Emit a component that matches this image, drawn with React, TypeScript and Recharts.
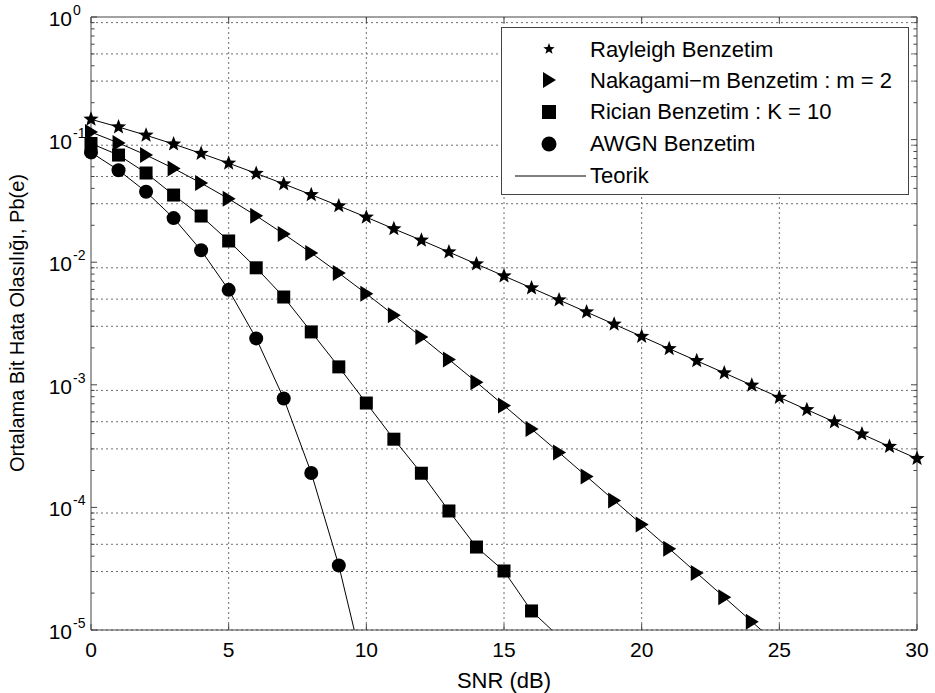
import { CartesianGrid, ComposedChart, Line, ReferenceLine, Scatter, XAxis, YAxis } from 'recharts'

// SNR in dB, one entry per simulated point
const snr = [0, 1, 2, 3, 4, 5, 6, 7, 8, 9, 10, 11, 12, 13, 14, 15, 16, 17, 18, 19, 20, 21, 22, 23, 24, 25, 26, 27, 28, 29, 30]

// bit error probability
const rayleigh = [
  0.1464, 0.1267, 0.1085, 0.0919, 0.0771, 0.0642, 0.053, 0.0435, 0.0355, 0.0288, 0.0233,
  0.0187, 0.0151, 0.0121, 0.00966, 0.00772, 0.00616, 0.00492, 0.00392, 0.00312, 0.00248,
  0.00197, 0.00157, 0.00125, 0.000992, 0.000789, 0.000627, 0.000498, 0.000396, 0.000314, 0.00025,
]
const nakagami = [
  0.1151, 0.0939, 0.0748, 0.0582, 0.0442, 0.0329, 0.0239, 0.017, 0.0119, 0.00816, 0.00553,
  0.0037, 0.00245, 0.00161, 0.00105, 0.000677, 0.000436, 0.00028, 0.000179, 0.000114, 0.0000726,
  0.0000461, 0.0000292, 0.0000185, 0.0000117,
]
const rician = [
  0.093, 0.0748, 0.0534, 0.0353, 0.0238, 0.0149, 0.009, 0.0052, 0.0027, 0.0014, 0.00071,
  0.00036, 0.00019, 0.0000935, 0.0000475, 0.0000303, 0.0000143,
]
const awgn = [0.0786, 0.0563, 0.0375, 0.0229, 0.0125, 0.00595, 0.00239, 0.000773, 0.000191, 0.0000336]

// theory curves run one step past the last marker (below the axis, clipped)
const nakagamiTail = 0.0000074
const ricianTail = 0.0000088
const awgnTail = 0.00000387

const xTicks = [0, 5, 10, 15, 20, 25, 30]
const xGrid = [5, 10, 15, 20, 25]
const yMajors = [0.00001, 0.0001, 0.001, 0.01, 0.1, 1]
const yMinors = yMajors.slice(0, -1).flatMap((d) => [2, 3, 4, 5, 6, 7, 8, 9].map((m) => m * d))
const yGrid = [...yMajors, ...yMinors]

const pts = (vals: number[]) => vals.map((v, i) => ({ snr: snr[i], v }))

const FONT = '"Liberation Sans", Arial, Helvetica, sans-serif'
const FRAME = '#444'

const Star = ({ cx, cy, s = 1 }: any) => {
  const p: string[] = []
  for (let i = 0; i < 10; i++) {
    const r = (i % 2 ? 3.4 : 8) * s
    const a = -Math.PI / 2 + (i * Math.PI) / 5
    p.push(`${cx + r * Math.cos(a)},${cy + r * Math.sin(a)}`)
  }
  return <polygon points={p.join(' ')} fill="#000" />
}
const Tri = ({ cx, cy }: any) => (
  <polygon points={`${cx - 6},${cy - 8} ${cx + 7},${cy} ${cx - 6},${cy + 8}`} fill="#000" />
)
const Sq = ({ cx, cy, s = 13 }: any) => <rect x={cx - s / 2} y={cy - s / 2} width={s} height={s} fill="#000" />
const Dot = ({ cx, cy, r = 7 }: any) => <circle cx={cx} cy={cy} r={r} fill="#000" />

const YTick = ({ x, y, payload }: any) => {
  const e = Math.round(Math.log10(payload.value))
  return (
    <g fontFamily={FONT} fill="#000">
      <text x={x - 16} y={y + 9} textAnchor="end" fontSize={21}>10</text>
      <text x={x - 15} y={y - 2} textAnchor="start" fontSize={14}>{e}</text>
    </g>
  )
}

const legendRows = [
  { label: 'Rayleigh Benzetim', cy: 49, ty: 57 },
  { label: 'Nakagami−m Benzetim : m = 2', cy: 80, ty: 88 },
  { label: 'Rician Benzetim : K = 10', cy: 112, ty: 119 },
  { label: 'AWGN Benzetim', cy: 144, ty: 151 },
  { label: 'Teorik', cy: 176, ty: 183 },
]

function Overlay() {
  const mx = 549
  return (
    <svg width={935} height={693} style={{ position: 'absolute', left: 0, top: 0, pointerEvents: 'none' }}>
      <text
        transform="translate(17,323) rotate(-90)"
        textAnchor="middle"
        dominantBaseline="central"
        fontSize={20}
        fontFamily={FONT}
        fill="#000"
      >
        Ortalama Bit Hata Olasılığı, Pb(e)
      </text>
      <rect x={501.5} y={27.5} width={407} height={167} fill="#fff" stroke={FRAME} strokeWidth={1} />
      <Star cx={mx} cy={legendRows[0].cy} s={0.75} />
      <Tri cx={mx} cy={legendRows[1].cy} />
      <Sq cx={mx} cy={legendRows[2].cy} s={14} />
      <Dot cx={mx} cy={legendRows[3].cy} r={7.5} />
      <line x1={515} x2={586} y1={legendRows[4].cy} y2={legendRows[4].cy} stroke="#000" strokeWidth={1} />
      {legendRows.map((r) => (
        <text key={r.label} x={590} y={r.ty} fontSize={22} fontFamily={FONT} fill="#000">
          {r.label}
        </text>
      ))}
    </svg>
  )
}

// inward tick marks, in data units (x: 1 dB ~ 27.5 px, y: one decade ~ 122.6 px)
const yTickSeg = (v: number, major: boolean) => {
  const dx = major ? 0.22 : 0.13
  return [
    [{ x: 0, y: v }, { x: dx, y: v }],
    [{ x: 30, y: v }, { x: 30 - dx, y: v }],
  ]
}
const xTickSeg = (t: number) => [
  [{ x: t, y: 0.00001 }, { x: t, y: 0.0000112 }],
  [{ x: t, y: 1 }, { x: t, y: 0.893 }],
]
const tickSegs = [
  ...yMajors.flatMap((v) => yTickSeg(v, true)),
  ...yMinors.flatMap((v) => yTickSeg(v, false)),
  ...xTicks.flatMap(xTickSeg),
]

export default function App() {
  return (
    <div style={{ position: 'absolute', left: 0, top: 0, width: 935, height: 693, background: '#fff' }}>
      <ComposedChart
        width={935}
        height={693}
        margin={{ top: 17, right: 18, left: 0, bottom: 0 }}
        style={{ fontFamily: FONT }}
      >
        <CartesianGrid
          horizontalValues={yGrid}
          verticalValues={xGrid}
          stroke="#6f6f6f"
          strokeDasharray="2 3"
        />
        <XAxis
          type="number"
          dataKey="snr"
          domain={[0, 30]}
          ticks={xTicks}
          height={63}
          stroke={FRAME}
          tickLine={false}
          tickSize={6}
          tickMargin={6}
          tick={{ fontSize: 21, fill: '#000' }}
          label={{ value: 'SNR (dB)', position: 'insideBottom', offset: 5, style: { fontSize: 22, fill: '#000' } }}
        />
        <YAxis
          type="number"
          scale="log"
          domain={[0.00001, 1]}
          ticks={yMajors}
          width={91}
          stroke={FRAME}
          tickLine={false}
          tickSize={3}
          tickMargin={0}
          tick={<YTick />}
        />
        <YAxis yAxisId="clip" type="number" scale="log" domain={[0.00001, 1]} allowDataOverflow hide />

        <ReferenceLine x={30} stroke={FRAME} strokeWidth={1} ifOverflow="visible" />
        <ReferenceLine y={1} stroke={FRAME} strokeWidth={1} ifOverflow="visible" />
        {tickSegs.map((seg, i) => (
          <ReferenceLine key={i} segment={seg} stroke={FRAME} strokeWidth={1} ifOverflow="visible" />
        ))}

        <Line yAxisId="clip" data={pts(rayleigh)} dataKey="v" type="linear" stroke="#000" strokeWidth={1} dot={false} isAnimationActive={false} />
        <Line yAxisId="clip" data={pts([...nakagami, nakagamiTail])} dataKey="v" type="linear" stroke="#000" strokeWidth={1} dot={false} isAnimationActive={false} />
        <Line yAxisId="clip" data={pts([...rician, ricianTail])} dataKey="v" type="linear" stroke="#000" strokeWidth={1} dot={false} isAnimationActive={false} />
        <Line yAxisId="clip" data={pts([...awgn, awgnTail])} dataKey="v" type="linear" stroke="#000" strokeWidth={1} dot={false} isAnimationActive={false} />

        <Scatter data={pts(rayleigh)} dataKey="v" shape={(p: any) => <Star cx={p.cx} cy={p.cy} />} isAnimationActive={false} />
        <Scatter data={pts(nakagami)} dataKey="v" shape={(p: any) => <Tri cx={p.cx} cy={p.cy} />} isAnimationActive={false} />
        <Scatter data={pts(rician)} dataKey="v" shape={(p: any) => <Sq cx={p.cx} cy={p.cy} />} isAnimationActive={false} />
        <Scatter data={pts(awgn)} dataKey="v" shape={(p: any) => <Dot cx={p.cx} cy={p.cy} />} isAnimationActive={false} />
      </ComposedChart>
      <Overlay />
    </div>
  )
}
